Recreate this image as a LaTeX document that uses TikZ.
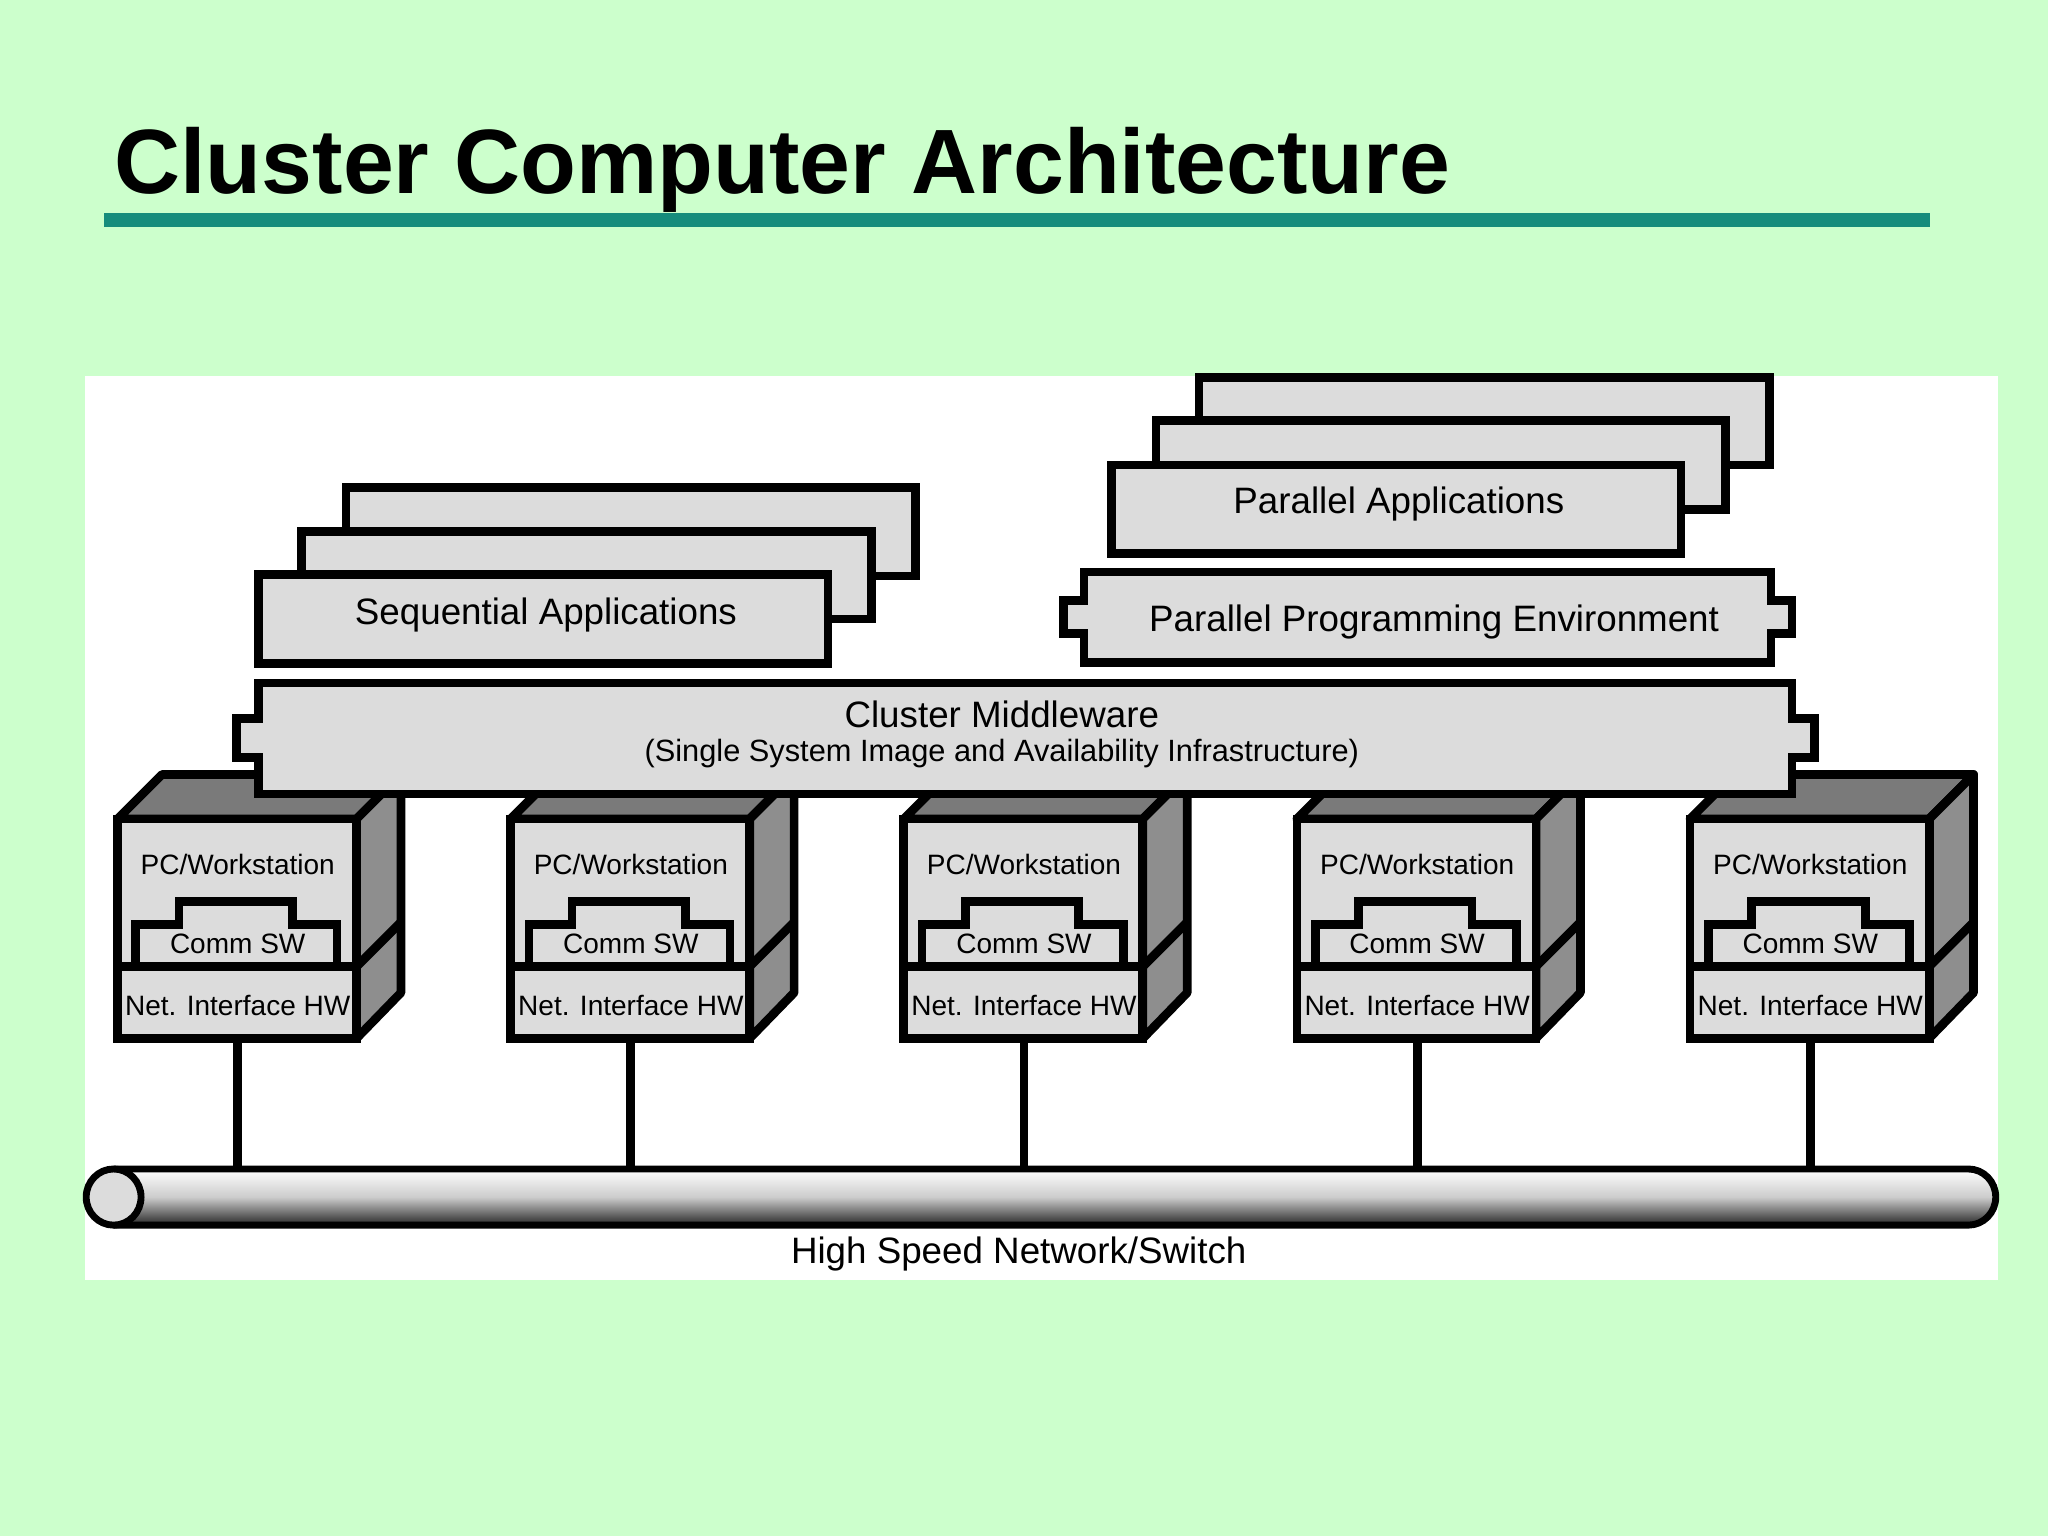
\documentclass[tikz,border=0pt]{standalone}
\usepackage{fontspec}
\setmainfont{Liberation Sans}
\definecolor{slidebg}{HTML}{CCFFCC}
\definecolor{rulecol}{HTML}{168C7C}
\definecolor{boxfill}{HTML}{DCDCDC}
\definecolor{topgray}{HTML}{7A7A7A}
\definecolor{sidegray}{HTML}{8E8E8E}
\tikzset{
  layer/.style={draw=black, line width=1.9pt, fill=boxfill},
  lbl/.style={font=\fontsize{8}{9}\selectfont, inner sep=0pt},
  small/.style={font=\fontsize{6.1}{7}\selectfont, inner sep=0pt},
}
\begin{document}
\begin{tikzpicture}[x=0.01cm, y=-0.01cm]
  \useasboundingbox (0,0) rectangle (1568,1176);
  \fill[slidebg] (0,0) rectangle (1568,1176);
  % title
  \node[anchor=base west, inner sep=0pt, font=\fontsize{19.9}{24}\bfseries] (title) at (87,148) {Cluster Computer Architecture};
  \fill[rulecol] (80,163) rectangle (1478,174);
  \fill[white] (65,288) rectangle (1530,980);

  % sequential applications
  \draw[layer] (265,373) rectangle (701,441);
  \draw[layer] (231,407) rectangle (667,474);
  \draw[layer] (198,440) rectangle (634,508);
  \node[lbl] (seq) at (418,471) {Sequential Applications};

  % parallel applications
  \draw[layer] (918,289) rectangle (1355,356);
  \draw[layer] (885,322) rectangle (1321,390);
  \draw[layer] (851,356) rectangle (1287,424);
  \node[lbl] (par) at (1071,386) {Parallel Applications};

  % parallel programming environment
  \draw[layer] (830,438) -- (1356,438) -- (1356,460) -- (1372,460) -- (1372,485) -- (1356,485)
    -- (1356,507) -- (830,507) -- (830,485) -- (814,485) -- (814,460) -- (830,460) -- cycle;
  \node[lbl] (ppe) at (1098,476) {Parallel Programming Environment};

  % workstations
  \foreach \i in {0,...,4}{
    \begin{scope}[xshift=\i*301*0.01cm]
      \draw[line width=1.9pt, fill=topgray, line join=round] (90,627) -- (124,593) -- (307,593) -- (273,627) -- cycle;
      \draw[line width=1.9pt, fill=sidegray, line join=round] (273,627) -- (307,593) -- (307,760) -- (273,795) -- cycle;
      \draw[line width=1.9pt] (273,740) -- (307,706);
      \draw[layer] (90,627) rectangle (273,795);
      \draw[line width=1.9pt] (90,740) -- (273,740);
      \draw[line width=1.9pt] (104,738) -- (104,708) -- (137,708) -- (137,690) -- (224,690)
        -- (224,708) -- (258,708) -- (258,738);
      \node[small] (pc\i) at (182,662) {PC/Workstation};
      \node[small] (sw\i) at (182,723) {Comm SW};
      \node[small] (nic\i) at (182,770) {Net. Interface HW};
      \coordinate (ws\i) at (182,795);
      \coordinate (tap\i) at (182,896);
    \end{scope}
  }

  % cluster middleware
  \draw[layer] (198,523) -- (1372,523) -- (1372,550) -- (1389,550) -- (1389,580) -- (1372,580)
    -- (1372,608) -- (198,608) -- (198,580) -- (181,580) -- (181,550) -- (198,550) -- cycle;
  \node[lbl] (mw) at (767,547) {Cluster Middleware};
  \node[small, font=\fontsize{6.7}{8}\selectfont] (ssi) at (767,577) {(Single System Image and Availability Infrastructure)};

  % connectors
  \foreach \i in {0,...,4}
    \draw[line width=1.9pt] (ws\i) -- (tap\i);

  % network bus
  \shade[top color=white, bottom color=black!85, middle color=black!20]
    (87,895) -- (1507,895) arc (-90:90:21 and 21.5) -- (87,938) -- cycle;
  \draw[line width=1.5pt] (87,895) -- (1507,895) arc (-90:90:21 and 21.5) -- (87,938);
  \draw[line width=1.5pt, fill=boxfill] (87,916.5) ellipse (21 and 21.5);
  \node[lbl] (net) at (780,960) {High Speed Network/Switch};
\end{tikzpicture}
\end{document}
